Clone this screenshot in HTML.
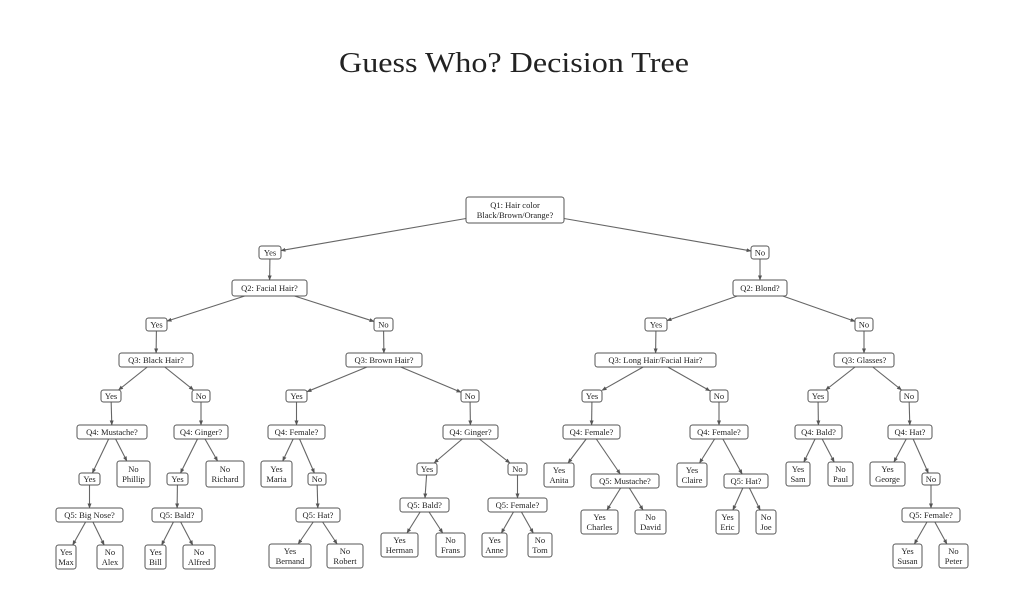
<!DOCTYPE html>
<html><head><meta charset="utf-8"><style>
html,body{margin:0;padding:0;background:#fff;width:1024px;height:614px;overflow:hidden}
svg text{font-family:"Liberation Serif",serif;fill:#222}
</style></head><body>
<svg id="s" width="1024" height="614" xmlns="http://www.w3.org/2000/svg">
<defs><marker id="a" markerWidth="5" markerHeight="5" refX="4.5" refY="2.5" orient="auto" markerUnits="userSpaceOnUse"><path d="M0,0.5 L5,2.5 L0,4.5 Z" fill="#555"/></marker></defs>
<text x="514" y="72" font-size="29" text-anchor="middle" textLength="350" lengthAdjust="spacingAndGlyphs">Guess Who? Decision Tree</text>
<g id="e"></g><g id="n"></g>
</svg>
<script>
var N={
q1:[466,197,564,223,["Q1: Hair color","Black/Brown/Orange?"]],
y1:[259,246,281,259,["Yes"]],n1:[751,246,769,259,["No"]],
q2a:[232,280,307,296,["Q2: Facial Hair?"]],q2b:[733,280,787,296,["Q2: Blond?"]],
ya:[146,318,167,331,["Yes"]],na:[374,318,393,331,["No"]],yb:[645,318,667,331,["Yes"]],nb:[855,318,873,331,["No"]],
q3a:[119,353,193,367,["Q3: Black Hair?"]],q3b:[346,353,422,367,["Q3: Brown Hair?"]],q3c:[595,353,716,367,["Q3: Long Hair/Facial Hair?"]],q3d:[834,353,894,367,["Q3: Glasses?"]],
y3a:[101,390,121,402,["Yes"]],n3a:[192,390,210,402,["No"]],y3b:[286,390,307,402,["Yes"]],n3b:[461,390,479,402,["No"]],
y3c:[582,390,602,402,["Yes"]],n3c:[710,390,728,402,["No"]],y3d:[808,390,828,402,["Yes"]],n3d:[900,390,918,402,["No"]],
q4a:[77,425,147,439,["Q4: Mustache?"]],q4b:[174,425,228,439,["Q4: Ginger?"]],q4c:[268,425,325,439,["Q4: Female?"]],q4d:[443,425,498,439,["Q4: Ginger?"]],
q4e:[563,425,620,439,["Q4: Female?"]],q4f:[690,425,748,439,["Q4: Female?"]],q4g:[795,425,842,439,["Q4: Bald?"]],q4h:[888,425,932,439,["Q4: Hat?"]],
y5a:[79,473,100,485,["Yes"]],phil:[117,461,150,487,["No","Phillip"]],y5b:[167,473,188,485,["Yes"]],rich:[206,461,244,487,["No","Richard"]],
maria:[261,461,292,487,["Yes","Maria"]],n5c:[308,473,326,485,["No"]],y5d:[417,463,437,475,["Yes"]],n5d:[508,463,527,475,["No"]],
anita:[544,463,574,487,["Yes","Anita"]],q5m:[591,474,659,488,["Q5: Mustache?"]],claire:[677,463,707,487,["Yes","Claire"]],q5h:[724,474,768,488,["Q5: Hat?"]],
sam:[786,462,810,486,["Yes","Sam"]],paul:[828,462,853,486,["No","Paul"]],george:[870,462,905,486,["Yes","George"]],n5h:[922,473,940,485,["No"]],
bn:[56,508,123,522,["Q5: Big Nose?"]],bald:[152,508,202,522,["Q5: Bald?"]],hat:[296,508,340,522,["Q5: Hat?"]],bald2:[400,498,449,512,["Q5: Bald?"]],fem:[488,498,547,512,["Q5: Female?"]],
fem2:[902,508,960,522,["Q5: Female?"]],
max:[56,545,76,569,["Yes","Max"]],alex:[97,545,123,569,["No","Alex"]],bill:[145,545,166,569,["Yes","Bill"]],alfred:[183,545,215,569,["No","Alfred"]],
bern:[269,544,311,568,["Yes","Bernand"]],rob:[327,544,363,568,["No","Robert"]],herman:[381,533,418,557,["Yes","Herman"]],frans:[436,533,465,557,["No","Frans"]],
anne:[482,533,507,557,["Yes","Anne"]],tom:[528,533,552,557,["No","Tom"]],
charles:[581,510,618,534,["Yes","Charles"]],david:[635,510,666,534,["No","David"]],eric:[716,510,739,534,["Yes","Eric"]],joe:[756,510,776,534,["No","Joe"]],
susan:[893,544,922,568,["Yes","Susan"]],peter:[939,544,968,568,["No","Peter"]]
};
var E=[["q1","y1"],["q1","n1"],["y1","q2a"],["n1","q2b"],["q2a","ya"],["q2a","na"],["q2b","yb"],["q2b","nb"],
["ya","q3a"],["na","q3b"],["yb","q3c"],["nb","q3d"],["q3a","y3a"],["q3a","n3a"],["q3b","y3b"],["q3b","n3b"],["q3c","y3c"],["q3c","n3c"],["q3d","y3d"],["q3d","n3d"],
["y3a","q4a"],["n3a","q4b"],["y3b","q4c"],["n3b","q4d"],["y3c","q4e"],["n3c","q4f"],["y3d","q4g"],["n3d","q4h"],
["q4a","y5a"],["q4a","phil"],["q4b","y5b"],["q4b","rich"],["q4c","maria"],["q4c","n5c"],["q4d","y5d"],["q4d","n5d"],
["q4e","anita"],["q4e","q5m"],["q4f","claire"],["q4f","q5h"],["q4g","sam"],["q4g","paul"],["q4h","george"],["q4h","n5h"],
["y5a","bn"],["y5b","bald"],["n5c","hat"],["y5d","bald2"],["n5d","fem"],["n5h","fem2"],
["bn","max"],["bn","alex"],["bald","bill"],["bald","alfred"],["hat","bern"],["hat","rob"],["bald2","herman"],["bald2","frans"],["fem","anne"],["fem","tom"],
["q5m","charles"],["q5m","david"],["q5h","eric"],["q5h","joe"],["fem2","susan"],["fem2","peter"]];
var ns="http://www.w3.org/2000/svg",ge=document.getElementById("e"),gn=document.getElementById("n");
function c(b){return[(b[0]+b[2])/2,(b[1]+b[3])/2]}
function clip(b,p,q){var hw=(b[2]-b[0])/2,hh=(b[3]-b[1])/2,dx=q[0]-p[0],dy=q[1]-p[1];var t=Math.min(dx?hw/Math.abs(dx):1e9,dy?hh/Math.abs(dy):1e9);return[p[0]+dx*t,p[1]+dy*t]}
E.forEach(function(e){var A=N[e[0]],B=N[e[1]],pa=c(A),pb=c(B);var s=clip(A,pa,pb),t=clip(B,pb,pa);
var l=document.createElementNS(ns,"line");l.setAttribute("x1",s[0]);l.setAttribute("y1",s[1]);l.setAttribute("x2",t[0]);l.setAttribute("y2",t[1]);
l.setAttribute("stroke","#666");l.setAttribute("stroke-width","1.1");l.setAttribute("marker-end","url(#a)");ge.appendChild(l)});
for(var k in N){var b=N[k];var r=document.createElementNS(ns,"rect");r.setAttribute("x",b[0]);r.setAttribute("y",b[1]);r.setAttribute("width",b[2]-b[0]);r.setAttribute("height",b[3]-b[1]);
r.setAttribute("rx","2.5");r.setAttribute("fill","#fff");r.setAttribute("stroke","#555");r.setAttribute("stroke-width","1");gn.appendChild(r);
var L=b[4],cx=(b[0]+b[2])/2,cy=(b[1]+b[3])/2;L.forEach(function(s,i){var t=document.createElementNS(ns,"text");t.setAttribute("x",cx);
t.setAttribute("y",cy+3+(i-(L.length-1)/2)*10);t.setAttribute("font-size","8.5");t.setAttribute("text-anchor","middle");t.textContent=s;gn.appendChild(t)})}
</script>
</body></html>
